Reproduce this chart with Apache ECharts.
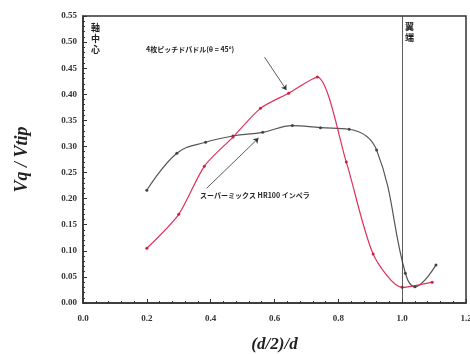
<!DOCTYPE html>
<html><head><meta charset="utf-8">
<script src="https://cdn.jsdelivr.net/npm/echarts@6/dist/echarts.min.js"></script>
<style>html,body{margin:0;padding:0;background:#fff}#c{width:470px;height:354px}</style>
</head><body><div id="c"></div>
<script>
const hrX = [0.2, 0.294, 0.384, 0.47, 0.563, 0.656, 0.744, 0.834, 0.92, 1.01, 1.04, 1.106];
const hrY = [0.216, 0.287, 0.308, 0.32, 0.327, 0.34, 0.336, 0.333, 0.293, 0.057, 0.031, 0.073];
const pbX = [0.2, 0.3, 0.38, 0.47, 0.556, 0.644, 0.734, 0.825, 0.909, 1.0, 1.094];
const pbY = [0.105, 0.17, 0.262, 0.318, 0.373, 0.402, 0.433, 0.27, 0.094, 0.03, 0.04];
const xTicks = [0, 0.2, 0.4, 0.6, 0.8, 1.0, 1.2];
const yTicks = [0, 0.05, 0.1, 0.15, 0.2, 0.25, 0.3, 0.35, 0.4, 0.45, 0.5, 0.55];
const labelPB = '4枚ピッチドパドル(θ = 45°)';
const labelHR = 'スーパーミックス HR100 インペラ';

const chart = echarts.init(document.getElementById('c'));
const tickFont = {fontFamily:'Liberation Serif', fontWeight:'bold', fontSize:9, color:'#333'};
chart.setOption({
  animation:false,
  grid:{left:83, right:4, top:16, bottom:51, show:true, borderColor:'#333', borderWidth:1.5, outerBoundsMode:'none', containLabel:false},
  xAxis:{type:'value', min:xTicks[0], max:xTicks[xTicks.length-1], interval:0.2,
    axisLine:{lineStyle:{color:'#333', width:1.5}},
    axisTick:{inside:true, length:4, lineStyle:{color:'#333'}},
    minorTick:{show:true, splitNumber:5, length:2, lineStyle:{color:'#333'}},
    splitLine:{show:false},
    axisLabel:Object.assign({margin:11, formatter:v=>v.toFixed(1)}, tickFont),
    name:'(d/2)/d', nameLocation:'middle', nameGap:33,
    nameTextStyle:{fontFamily:'Liberation Serif', fontStyle:'italic', fontWeight:'bold', fontSize:17, color:'#222'}},
  yAxis:{type:'value', min:yTicks[0], max:yTicks[yTicks.length-1], interval:0.05,
    axisLine:{lineStyle:{color:'#333', width:1.5}},
    axisTick:{inside:true, length:4, lineStyle:{color:'#333'}},
    minorTick:{show:true, splitNumber:5, length:2, lineStyle:{color:'#333'}},
    splitLine:{show:false},
    axisLabel:Object.assign({margin:6, formatter:v=>v.toFixed(2)}, tickFont),
    name:'Vq / Vtip', nameLocation:'middle', nameGap:52,
    nameTextStyle:{fontFamily:'Liberation Serif', fontStyle:'italic', fontWeight:'bold', fontSize:18, color:'#222'}},
  series:[
    {type:'line', smooth:0.4, data:hrX.map((x,i)=>[x,hrY[i]]), symbol:'circle', symbolSize:3,
     lineStyle:{color:'#555', width:1.2}, itemStyle:{color:'#444'},
     markLine:{silent:true, symbol:['none','arrow'], symbolSize:5, label:{show:false},
       lineStyle:{color:'#333', width:0.8, type:'solid'},
       data:[[{coord:[0.3875,0.22]},{coord:[0.55,0.316]}]]}},
    {type:'line', smooth:0.25, data:pbX.map((x,i)=>[x,pbY[i]]), symbol:'circle', symbolSize:3,
     lineStyle:{color:'#e0305a', width:1.2}, itemStyle:{color:'#d02040'},
     markLine:{silent:true, symbol:['none','arrow'], symbolSize:5, label:{show:false},
       lineStyle:{color:'#333', width:0.8, type:'solid'},
       data:[[{coord:[0.569,0.471]},{coord:[0.6375,0.408]}],
             [{coord:[1.0,0]},{coord:[1.0,0.55], symbol:'none'}]]}}
  ],
  graphic:[
    {type:'text', left:91, top:22, style:{text:'軸\n中\n心', font:'bold 9px "Noto Sans CJK JP"', fill:'#222', lineHeight:11}},
    {type:'text', left:405, top:21, style:{text:'翼\n端', font:'bold 9px "Noto Sans CJK JP"', fill:'#222', lineHeight:11}},
    {type:'text', left:146, top:46, style:{text:labelPB, font:'bold 7px "Noto Sans CJK JP"', fill:'#222'}},
    {type:'text', left:200, top:192, style:{text:labelHR, font:'bold 7px "Noto Sans CJK JP"', fill:'#222'}}
  ]
});
</script></body></html>
